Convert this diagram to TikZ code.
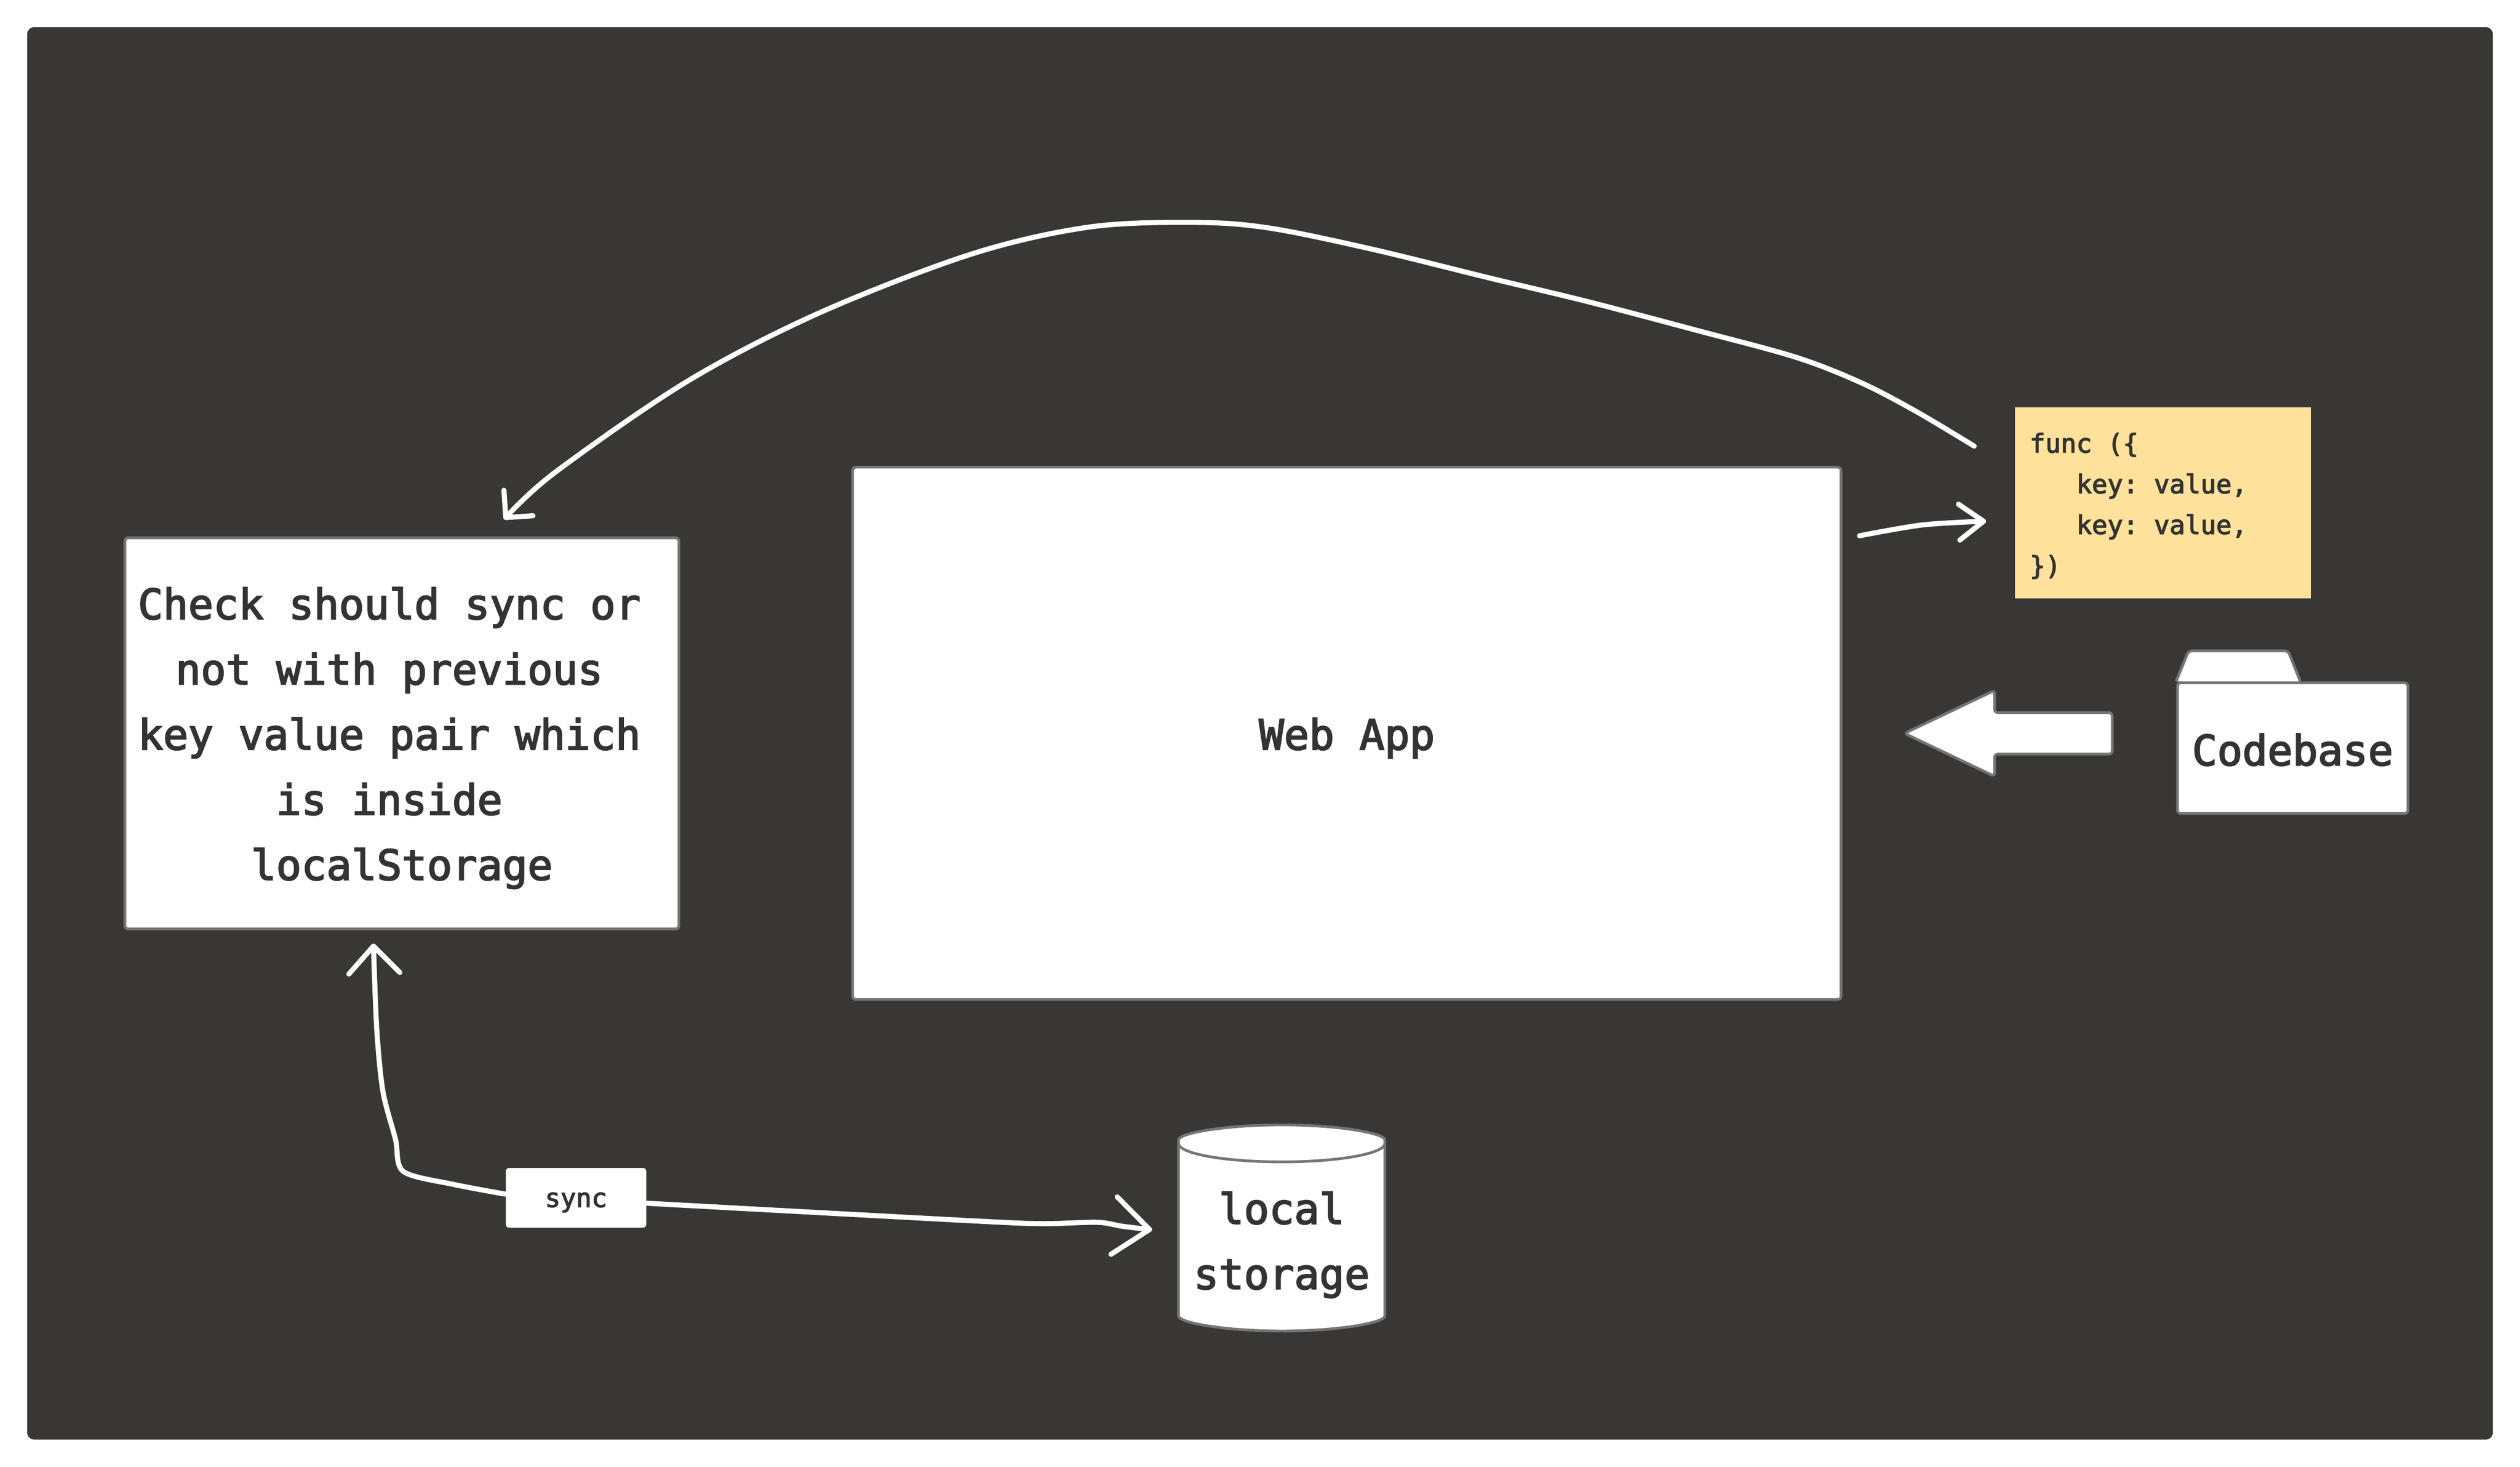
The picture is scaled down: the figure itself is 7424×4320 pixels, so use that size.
\documentclass[tikz,border=0pt]{standalone}
\usepackage{fontspec}
\setmonofont[FakeBold=3]{DejaVu Sans Mono}
\usetikzlibrary{arrows.meta,positioning,shapes.geometric,shapes.arrows}
\definecolor{c_panel}{HTML}{383735}
\definecolor{c_line}{HTML}{757575}
\definecolor{c_note}{HTML}{FEE19B}
\definecolor{c_text}{HTML}{333333}
\def\txtbig{\ttfamily\fontsize{12.3}{19.2}\selectfont}
\def\txtsmall{\ttfamily\fontsize{7.6}{12}\selectfont}
\def\txtdrop#1{\rule{0pt}{#1}}
\tikzset{
	panel/.style={fill=c_panel,rounded corners=2pt,minimum width=726.4pt,minimum height=416pt,inner sep=0pt},
	whitebox/.style={draw=c_line,line width=0.8pt,fill=white,rounded corners=1pt,text=c_text,font=\txtbig,align=center,inner sep=0pt},
	sketch/.style 2 args={white,line width=1.5pt,line cap=round,line join=round,-{Straight Barb[round,length=#1,width=#2]}},
}

\begin{document}
\begin{tikzpicture}[x=0.1pt,y=-0.1pt,on grid]
\path[use as bounding box,fill=white] (0,0) rectangle (7424,4320);
\node[panel]																		(n_panel)	at (3712,2160)						{};

\node[whitebox,minimum width=163.2pt,minimum height=115.2pt]						(n_check)	at (1184,2160)						{\txtdrop{12.15pt}Check should sync or\hphantom{x}\\not with previous\hphantom{x}\\key value pair which\hphantom{x}\\is inside\hphantom{x}\\localStorage};
\node[whitebox,minimum width=291.2pt,minimum height=156.8pt]						(n_web)		[right=278.4pt of n_check]			{\txtdrop{12.1pt}Web App};
\node[fill=c_note,text=c_text,font=\txtsmall,align=flush left,inner sep=0pt,text width=78.4pt,minimum width=87.2pt,minimum height=56.3pt]
																					(n_note)	[above right=67.9pt and 240.4pt of n_web]	{\txtdrop{7.6pt}func (\{\\~~~key: value,\\~~~key: value,\\\})};
\node[whitebox,minimum width=67.9pt,minimum height=38.5pt]							(n_code)	[below right=72.25pt and 38.25pt of n_note]	{\txtdrop{10.3pt}Codebase};
\node[single arrow,draw=c_line,line width=0.8pt,fill=white,rounded corners=1pt,shape border rotate=180,inner sep=0pt,inner ysep=5.7pt,
	minimum height=61.2pt,minimum width=24.5pt,single arrow head extend=6.55pt,single arrow tip angle=51]
																					(n_block)	[right=201.3pt of n_web]			{};
\node[whitebox,cylinder,shape border rotate=90,minimum height=60.7pt,minimum width=60.8pt,shape aspect=0.21]
																					(n_store)	[below left=148.6pt and 19.2pt of n_web]	{\txtdrop{13.55pt}local\\storage};
\node[fill=white,rounded corners=1pt,text=c_text,font=\txtsmall,inner sep=0pt,minimum width=41.4pt,minimum height=17.6pt]
																					(n_sync)	[below right=136.8pt and 51.3pt of n_check]	{\txtdrop{7pt}sync};

\draw[draw=c_line,line width=0.8pt,fill=white,rounded corners=1pt] (n_code.north west) -- ++(37,-90) -- ++(293,0) -- ++(36,90);

\coordinate (c_note_out)	at (5816,1314);
\coordinate (c_check_in)	at (1485,1530);
\coordinate (c_web_out)		at (5478,1578);
\coordinate (c_note_in)		at (5851,1535);
\coordinate (c_check_up)	at (1100,2779);
\coordinate (c_store_in)	at (3394,3622);

\draw[sketch={5.7pt}{11.4pt}] plot[smooth,tension=0.55] coordinates {(c_note_out) (5640,1209) (5480,1126) (5290,1052) (4995,972) (4676,888) (4389,819) (4038,733) (3735,671) (3512,655) (3207,669) (2863,748) (2415,921) (2025,1123) (1633,1393) (c_check_in)};
\draw[sketch={7.2pt}{10.6pt}] plot[smooth,tension=0.5] coordinates {(c_web_out) (5664,1546) (c_note_in)};
\draw[sketch={8pt}{15pt}] plot[smooth,tension=0.5] coordinates {([yshift=1.1pt]n_sync.west) (1334,3488) (1188,3450) (1165,3355) (1128,3214) (1110,3032) (c_check_up)};
\draw[sketch={10.5pt}{17pt}] plot[smooth,tension=0.5] coordinates {([yshift=-1.6pt]n_sync.east) (2852,3595) (3069,3604) (3232,3600) (3308,3612) (c_store_in)};
\end{tikzpicture}
\end{document}
